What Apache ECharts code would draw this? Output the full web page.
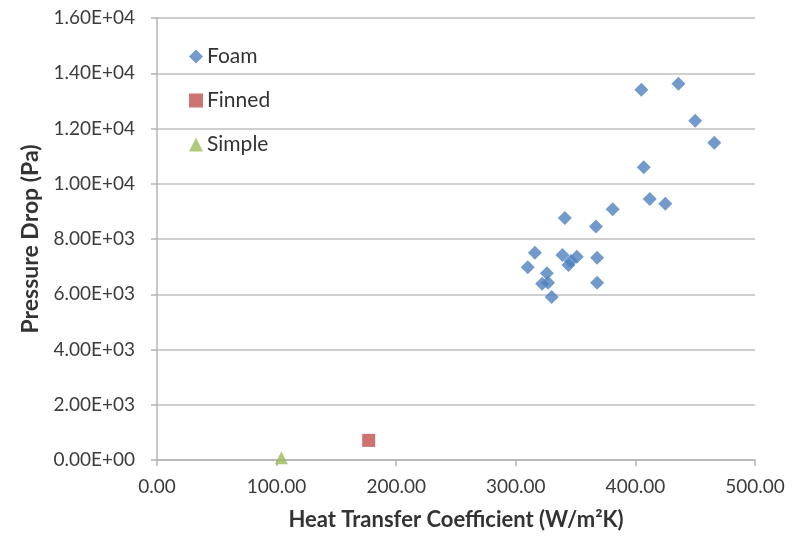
<!DOCTYPE html>
<html>
<head>
<meta charset="utf-8">
<script src="https://cdn.jsdelivr.net/npm/echarts@6/dist/echarts.min.js"></script>
<style>
html,body{margin:0;padding:0;background:#fff;}
#chart{width:793px;height:536px;}
</style>
</head>
<body>
<div id="chart"></div>
<script>
// Data: [heat transfer coefficient, pressure drop]
const foamData = [
  [310, 6980], [316, 7500], [322, 6380], [326, 6760], [327, 6420], [330, 5900],
  [339, 7420], [341, 8760], [344, 7060], [346, 7200], [351, 7360], [367, 8450],
  [368, 7320], [368, 6420], [381, 9080], [405, 13400], [407, 10600], [412, 9450],
  [425, 9280], [436, 13620], [450, 12280], [466, 11480]
];
const finnedData = [[177, 710]];
const simpleData = [[104, 80]];
const seriesNames = ['Foam', 'Finned', 'Simple'];
const xAxisTitle = 'Heat Transfer Coefficient (W/m\u00B2K)';
const yAxisTitle = 'Pressure Drop (Pa)';

const FONT = 'Lato';
function sci(v) {
  if (v === 0) return '0.00E+00';
  const e = Math.floor(Math.log10(Math.abs(v)) + 1e-9);
  const m = v / Math.pow(10, e);
  return m.toFixed(2) + 'E' + (e < 0 ? '-' : '+') + String(Math.abs(e)).padStart(2, '0');
}

const chart = echarts.init(document.getElementById('chart'), null, {renderer: 'canvas'});
const axisColor = '#b3b3b3';
chart.setOption({
  backgroundColor: '#ffffff',
  animation: false,
  grid: {left: 157, right: 38, top: 18, bottom: 76, containLabel: false},
  legend: {
    orient: 'vertical',
    left: 184, top: 41,
    itemWidth: 14, itemHeight: 14, itemGap: 23,
    data: [
      {name: seriesNames[0], icon: 'diamond'},
      {name: seriesNames[1], icon: 'rect'},
      {name: seriesNames[2], icon: 'triangle'}
    ],
    textStyle: {fontFamily: FONT, fontSize: 21, color: '#333333', padding: [0, 0, 0, -1]}
  },
  xAxis: {
    type: 'value', min: 0, max: 500, interval: 100,
    name: xAxisTitle, nameLocation: 'middle', nameGap: 49,
    nameTextStyle: {fontFamily: FONT, fontSize: 22, fontWeight: 'bold', color: '#333333'},
    axisLine: {show: true, lineStyle: {color: axisColor, width: 1.5}},
    axisTick: {show: true, length: 6, lineStyle: {color: axisColor, width: 1.5}},
    axisLabel: {fontFamily: FONT, fontSize: 19, color: '#3c3c3c', margin: 17,
      formatter: v => v.toFixed(2)},
    splitLine: {show: false}
  },
  yAxis: {
    type: 'value', min: 0, max: 16000, interval: 2000,
    name: yAxisTitle, nameLocation: 'middle', nameGap: 113, nameRotate: 90,
    nameTextStyle: {fontFamily: FONT, fontSize: 23, fontWeight: 'bold', color: '#333333'},
    axisLine: {show: true, lineStyle: {color: axisColor, width: 1.5}},
    axisTick: {show: true, length: 6, lineStyle: {color: axisColor, width: 1.5}},
    axisLabel: {fontFamily: FONT, fontSize: 19, color: '#3c3c3c', margin: 22,
      formatter: v => sci(v)},
    splitLine: {show: true, lineStyle: {color: '#bfbfbf', width: 1.5}}
  },
  series: [
    {name: seriesNames[0], type: 'scatter', data: foamData, symbol: 'diamond', symbolSize: 14,
      itemStyle: {color: '#4F81BD'}},
    {name: seriesNames[1], type: 'scatter', data: finnedData, symbol: 'rect', symbolSize: 13,
      itemStyle: {color: '#C0504D'}},
    {name: seriesNames[2], type: 'scatter', data: simpleData, symbol: 'triangle', symbolSize: 13,
      itemStyle: {color: '#9BBB59'}}
  ]
});
</script>
</body>
</html>
